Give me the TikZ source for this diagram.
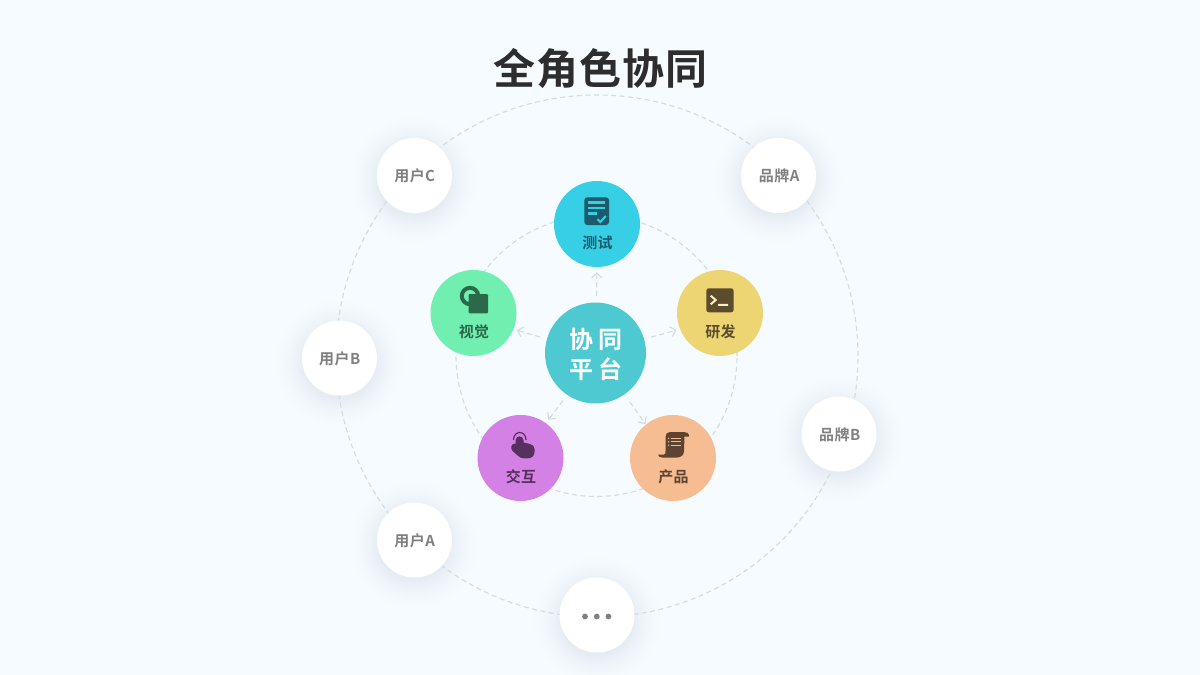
\documentclass[tikz,border=0pt]{standalone}
\usepackage{fontspec}
\setmainfont{Noto Sans CJK SC}[BoldFont=* Bold]
\newfontfamily\titlefont{Noto Sans CJK SC Bold}[LetterSpace=2.5]
\newfontfamily\labelfont{Noto Sans CJK SC Bold}[LetterSpace=3]
\newfontfamily\outerfont{Noto Sans CJK SC Bold}[LetterSpace=3]
\newfontfamily\hubfont{Noto Sans CJK SC Bold}[LetterSpace=22]
\usetikzlibrary{arrows.meta}
\definecolor{bgc}{HTML}{F6FBFF}
\definecolor{ringc}{HTML}{D2DBE2}
\definecolor{greyt}{HTML}{808080}
\definecolor{titlec}{HTML}{2D2D2D}
\definecolor{cyanc}{HTML}{36CFE6}\definecolor{cyand}{HTML}{1D5A6C}
\definecolor{greenc}{HTML}{71EFB0}\definecolor{greend}{HTML}{2A6A49}
\definecolor{yelc}{HTML}{EDD574}\definecolor{yeld}{HTML}{5B4D2C}
\definecolor{purc}{HTML}{D481E6}\definecolor{purd}{HTML}{57305F}
\definecolor{pchc}{HTML}{F6BD92}\definecolor{pchd}{HTML}{5F4331}
\definecolor{hubc}{HTML}{4EC9D1}
\definecolor{shadowa}{HTML}{E6EDF2}
\tikzset{
  orbit/.style={draw=ringc,line width=1.1pt,dash pattern=on 5pt off 3.5pt},
  role/.style={circle,inner sep=0pt,minimum size=86pt},
  outernode/.style={circle,fill=white,inner sep=0pt,minimum size=75pt},
  outerlabel/.style={inner sep=0pt,text=greyt,font=\outerfont\fontsize{15}{18}\selectfont},
  rolelabel/.style={inner sep=0pt,font=\labelfont\fontsize{15}{18}\selectfont},
  spoke/.style={draw=ringc,line width=1.1pt,dash pattern=on 5pt off 3.5pt,
    -{Straight Barb[length=5pt,width=10pt,line width=1.1pt]}},
}
\newcommand{\softshadow}[2]{%
  \foreach \r in {66,...,36}{%
    \pgfmathsetmacro{\pct}{100*((66-\r)/30)^1.6}%
    \fill[shadowa!\pct!bgc] (#1,#2+5) circle (\r);}%
}
\begin{document}
\begin{tikzpicture}[x=1pt,y=-1pt]
\useasboundingbox (0,0) rectangle (1200,675);
\fill[bgc] (0,0) rectangle (1200,675);

% shadows under everything
\softshadow{414}{175}\softshadow{778.5}{175}\softshadow{339.5}{358}
\softshadow{839}{434}\softshadow{414}{540}\softshadow{597}{615}

% orbits
\node[orbit,circle,inner sep=0pt,minimum size=522pt] (outerorbit) at (597,356) {};
\node[orbit,circle,inner sep=0pt,minimum size=281pt] (innerorbit) at (596.5,356) {};

\node[font=\titlefont\fontsize{42}{50}\selectfont,text=titlec,inner sep=0pt] (title) at (600.5,69) {全角色协同};

% outer nodes
\node[outernode] (userc) at (414.5,175.5) {};
\node[outerlabel] (luserc) at (414.7,176.3) {用户C};
\node[outernode] (branda) at (778.5,175.5) {};
\node[outerlabel] (lbranda) at (779.2,176.3) {品牌A};
\node[outernode] (userb) at (339.5,358) {};
\node[outerlabel] (luserb) at (339.8,358.8) {用户B};
\node[outernode] (brandb) at (839,434) {};
\node[outerlabel] (lbrandb) at (839.7,434.8) {品牌B};
\node[outernode] (usera) at (414.5,540) {};
\node[outerlabel] (lusera) at (414.7,540.8) {用户A};
\node[outernode] (more) at (597,615) {};
\fill[greyt] (585,616.5) circle (2.9) (596.8,616.5) circle (2.9) (608.4,616.5) circle (2.9);

% role nodes
\node[role,fill=cyanc] (test) at (597,224) {};
\node[role,fill=greenc] (visual) at (473.5,313) {};
\node[role,fill=yelc] (dev) at (720,313) {};
\node[role,fill=purc] (inter) at (520.5,458) {};
\node[role,fill=pchc] (prod) at (673,458) {};
\node[circle,fill=hubc,inner sep=0pt,minimum size=101pt] (hub) at (595.5,353) {};
\node[align=center,inner sep=0pt,text=white,font=\hubfont\fontsize{24}{30}\selectfont] (lhub) at (596,354.7) {协同\\平台};

% spokes
\draw[spoke,shorten <=6.5pt,shorten >=5pt] (hub.89) -- (test.-90);
\draw[spoke,shorten <=7pt,shorten >=3.5pt] (hub.164) -- (visual.-22);
\draw[spoke,shorten <=7pt,shorten >=3.5pt] (hub.16) -- (dev.202);
\draw[spoke,shorten <=7pt,shorten >=4pt] (hub.-124) -- (inter.54);
\draw[spoke,shorten <=9pt,shorten >=0.5pt] (hub.-55) -- (prod.129);

% labels
\node[rolelabel,text=cyand] (ltest) at (597.5,242.8) {测试};
\node[rolelabel,text=greend] (lvisual) at (474,331.8) {视觉};
\node[rolelabel,text=yeld] (ldev) at (720.5,331.8) {研发};
\node[rolelabel,text=purd] (linter) at (521,476.8) {交互};
\node[rolelabel,text=pchd] (lprod) at (673.5,476.8) {产品};

% icon: test
\fill[cyand,rounded corners=3pt] (584.3,197.3) rectangle (609,225);
\draw[cyanc,line width=2.2pt] (587.5,202.5)--(604.5,202.5) (587.5,208)--(604.5,208) (587.5,213.5)--(597,213.5);
\draw[cyanc,line width=2pt] (597.5,219.2)--(600.3,222)--(605.8,216);
% icon: visual
\draw[greend,line width=4pt] (470,296) circle (8.2);
\fill[greend,rounded corners=1pt] (468.7,294) rectangle (488,313.3);
% icon: terminal
\fill[yeld,rounded corners=2.5pt] (706.3,288.3) rectangle (733.7,312.3);
\draw[yelc!40!white,line width=2pt] (710.7,295.7)--(715.7,300)--(710.7,304.3) (718,304.8)--(728,304.8);
% icon: hand
\draw[purd,line width=1.2pt] (513.5,440) .. controls (513.5,430) and (526,430) .. (526,440);
\fill[purd] (515.5,440.5) .. controls (515.5,435) and (523.5,435) .. (523.5,440.5)
  -- (523.5,442.5) -- (530,444) .. controls (533,444.8) and (534.5,446.5) .. (534.5,449)
  -- (534.5,452) .. controls (534.5,456) and (531.5,458.3) .. (528,458.3)
  -- (524,458.3) .. controls (521,458.3) and (519.5,457.3) .. (518,455.8)
  -- (512.5,451) .. controls (510,448) and (511,443.5) .. (515.5,443.5) -- cycle;
% icon: scroll
\fill[pchd] (670,432) -- (684,432) .. controls (687,432) and (689,433) .. (689,436.5)
  -- (684.5,436.5) -- (684,451) .. controls (684,455) and (681,457.5) .. (677,457.5)
  -- (662,457.5) .. controls (660,457.5) and (658.5,456.5) .. (658,454.5)
  -- (664,454.5) .. controls (665.5,454.5) and (665.5,453) .. (665.5,451)
  -- (665.5,437) .. controls (665.5,434) and (667,432) .. (670,432) -- cycle;
\draw[pchc,line width=1.1pt] (671,438.3)--(680.5,438.3) (671,441.8)--(680.5,441.8) (671,445.3)--(680.5,445.3);
\fill[pchc] (668.6,438.3) circle (0.8) (668.6,441.8) circle (0.8) (668.6,445.3) circle (0.8);
\end{tikzpicture}
\end{document}
